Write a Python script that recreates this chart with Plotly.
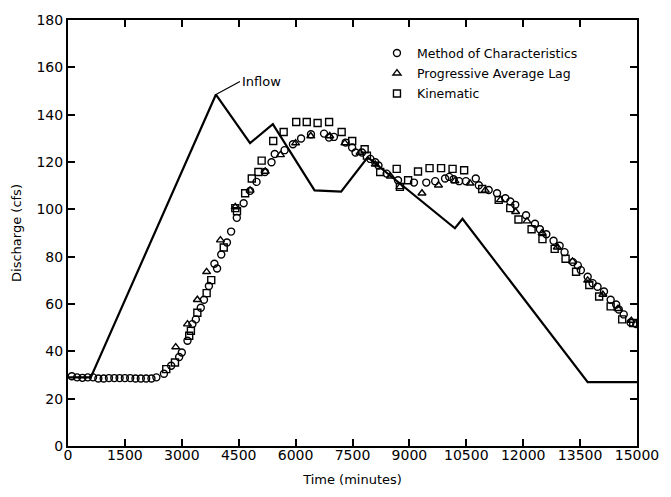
import plotly.graph_objects as go

# Inflow hydrograph (minutes, cfs)
inflow_t = [0, 600, 3900, 4800, 5400, 6500, 7200, 7900, 10200, 10400, 13700, 15000]
inflow_q = [29, 29, 148.5, 128, 136, 108, 107.5, 122, 92, 96, 27, 27]

# Method of Characteristics (circles)
moc_t = [100, 240, 380, 520, 660, 800, 940, 1080, 1220, 1360, 1500, 1640, 1780, 1920, 2060, 2200, 2330,
         2530, 2720, 2930, 3000, 3150, 3280, 3370, 3500, 3585, 3715, 3860, 3930, 4040, 4190, 4300,
         4450, 4630, 4800, 4970, 5190, 5365, 5450, 5710, 5930, 6145, 6405, 6750, 6880, 7010, 7320,
         7490, 7580, 7750, 7970, 8100, 8185, 8400, 8700, 9120, 9445, 9680, 9940, 10050, 10165, 10310,
         10490, 10750, 10830, 11090, 11310, 11530, 11660, 11790, 12075, 12310, 12440, 12610, 12800,
         12960, 13090, 13310, 13440, 13520, 13700, 13830, 13960, 14130, 14305, 14450, 14520, 14650,
         14830, 14980]
moc_q = [29.5, 29, 28.8, 29, 29, 28.5, 28.5, 28.7, 28.7, 28.7, 28.7, 28.7, 28.5, 28.5, 28.5, 28.5, 29,
         30.5, 33.9, 37.6, 39.5, 44.5, 51.5, 53.5, 58.4, 61.8, 67.6, 77, 75, 80.9, 86, 90.6,
         96.4, 102.6, 107.8, 111.6, 115.8, 119.9, 123.4, 125, 127.5, 129.9, 131.7, 132, 130.3, 130.6, 128.2,
         126.1, 124, 124, 121.3, 119.9, 118.5, 115.1, 112.3, 111.3, 111.3, 111.9, 113, 113.7, 112.7, 111.9,
         111.9, 113, 110.2, 108.2, 106.8, 104.7, 103.3, 101.9, 97.5, 93.9, 91.6, 89.5, 86.7,
         84.6, 81.9, 77.7, 76.3, 74.3, 71.5, 68.8, 67.3, 65.3, 61.8, 59.8, 57.7, 55.6,
         52.2, 51.5]

# Progressive Average Lag (triangles)
pal_t = [2840, 3150, 3410, 3654, 4019, 4409, 4800, 5200, 5600, 6000, 6400, 6900, 7300, 7700, 8100,
         8500, 8750, 9331, 9766, 10200, 10600, 11000, 11400, 11800, 12100, 12500, 12900, 13300, 13700,
         14100, 14500, 14850]
pal_q = [41.8, 51.5, 61.8, 73.6, 87, 101, 108, 116, 123, 128, 131, 131, 128, 124, 119,
         114, 109.5, 106.8, 110.2, 112, 111, 108, 104, 99, 95, 90, 84, 78, 70,
         64, 58, 53]

# Kinematic (squares)
kin_t = [2590, 2820, 3195, 3240, 3410, 3655, 3776, 4106, 4410, 4455, 4670, 4845, 5020, 5105, 5410,
         5685, 6016, 6294, 6580, 6883, 7214, 7492, 7820, 7880, 8230, 8665, 8750, 8966, 9227, 9531,
         9835, 10138, 10443, 10919, 11354, 11659, 11875, 12221, 12508, 12830, 13117, 13394, 13742,
         14002, 14305, 14609, 14900]
kin_q = [32.5, 35.3, 46.6, 48.7, 56.3, 64.6, 70.1, 83.9, 100.5, 99.2, 106.8, 113, 115.8, 120.6, 128.9,
         132.7, 136.9, 136.9, 136.5, 136.9, 132.7, 128.9, 125.4, 122.7, 115.8, 117.1, 109.5, 112.3, 116, 117.4,
         117.4, 117.1, 116.5, 108.6, 104, 100.5, 95.7, 91.6, 87.4, 83.3, 79.1, 73.6, 68,
         63.2, 59, 53.5, 52]

x_ticks = [0, 1500, 3000, 4500, 6000, 7500, 9000, 10500, 12000, 13500, 15000]
y_ticks = [0, 20, 40, 60, 80, 100, 120, 140, 160, 180]

FONT = "DejaVu Sans"

def mk(symbol):
    return dict(symbol=symbol, color="black", size=7, line=dict(color="black", width=1.4))

fig = go.Figure()
fig.add_trace(go.Scatter(x=inflow_t, y=inflow_q, mode="lines", line=dict(color="black", width=2.2),
                         showlegend=False, name="Inflow"))
fig.add_trace(go.Scatter(x=moc_t, y=moc_q, mode="markers", name="Method of Characteristics",
                         legendgroup="a", marker=mk("circle-open")))
fig.add_trace(go.Scatter(x=pal_t, y=pal_q, mode="markers", name="Progressive Average Lag",
                         legendgroup="b", marker=mk("triangle-up-open")))
fig.add_trace(go.Scatter(x=kin_t, y=kin_q, mode="markers", name="Kinematic",
                         legendgroup="c", marker=mk("square-open")))

fig.add_annotation(x=3900, y=148.5, xref="x", yref="y", text="Inflow", showarrow=True,
                   arrowhead=0, arrowwidth=1.2, arrowcolor="black", ax=24, ay=-13,
                   xanchor="left", font=dict(family=FONT, size=13, color="black"))

axis_common = dict(showline=True, linecolor="black", linewidth=2, mirror="allticks",
                   ticks="inside", ticklen=7, tickwidth=1.5, tickcolor="black",
                   showgrid=False, zeroline=False,
                   tickfont=dict(family=FONT, size=14, color="black"))

fig.update_layout(
    width=671, height=497,
    margin=dict(l=68, r=27, t=14, b=49),
    paper_bgcolor="white", plot_bgcolor="white",
    font=dict(family=FONT, color="black"),
    xaxis=dict(range=[0, 15000], tickvals=x_ticks, ticktext=[str(v) for v in x_ticks],
               ticklabelstandoff=-5,
               title=dict(text="Time (minutes)", font=dict(family=FONT, size=13, color="black"), standoff=13),
               **axis_common),
    yaxis=dict(range=[0, 180], tickvals=y_ticks, ticktext=[str(v) for v in y_ticks],
               title=dict(text="Discharge (cfs)", font=dict(family=FONT, size=13, color="black"), standoff=12),
               **axis_common),
    legend=dict(x=0.543, y=0.957, xanchor="left", yanchor="top", bgcolor="rgba(0,0,0,0)",
                font=dict(family=FONT, size=12.5, color="black"), itemsizing="trace",
                tracegroupgap=1, itemwidth=30),
)

fig.write_html("out.html")
